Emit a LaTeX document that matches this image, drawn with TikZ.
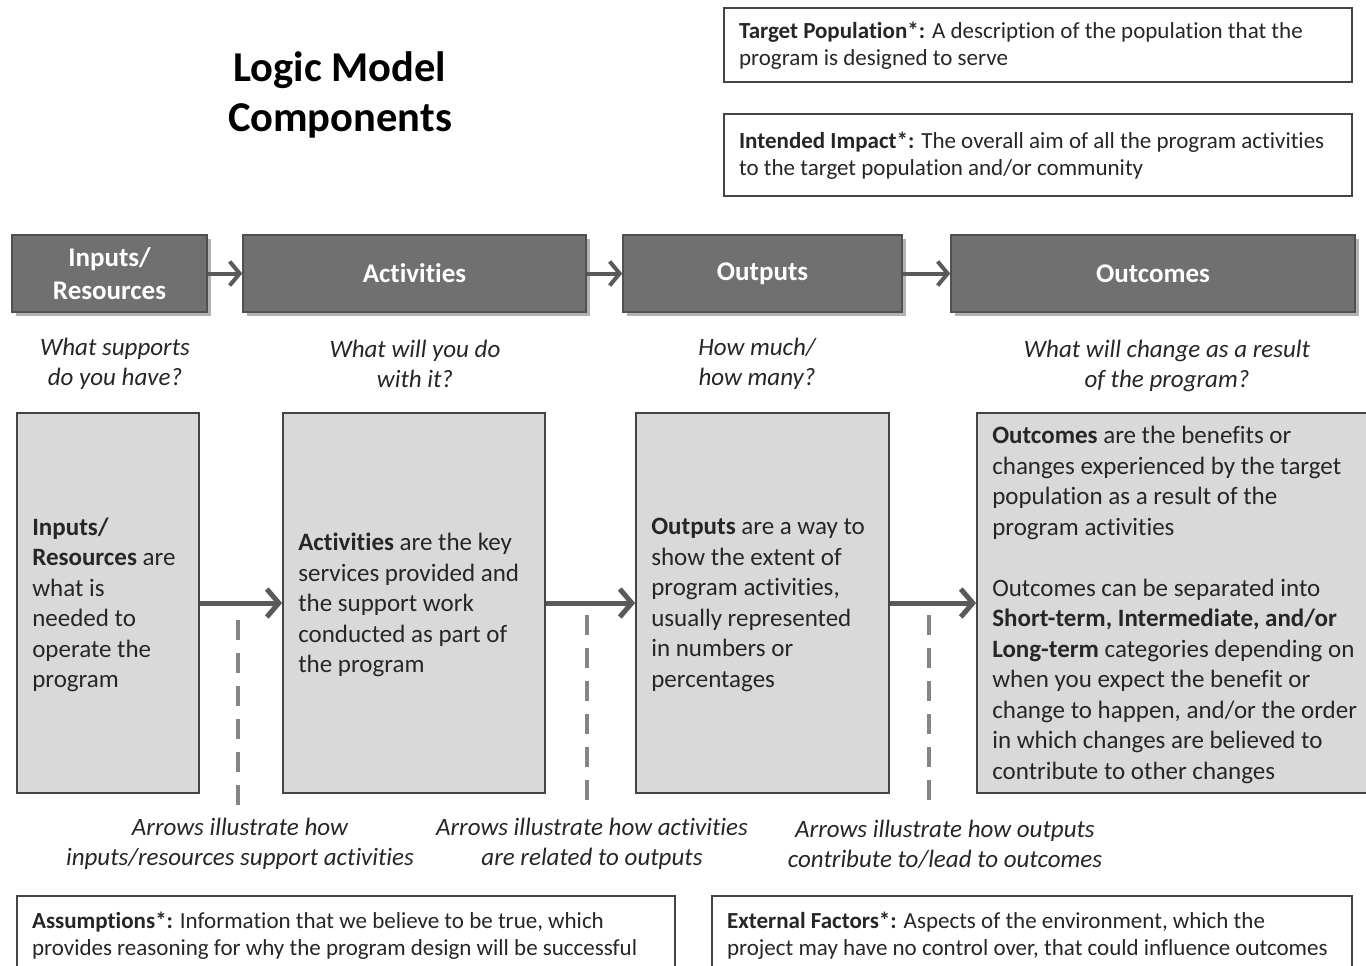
\documentclass[tikz,border=0pt]{standalone}
\usepackage{fontspec}
\setmainfont{Carlito}[Ligatures=NoCommon]
\usetikzlibrary{arrows.meta,shadows}
\definecolor{hdrfill}{HTML}{707070}
\definecolor{hdrline}{HTML}{505050}
\definecolor{boxfill}{HTML}{D9D9D9}
\definecolor{boxline}{HTML}{454545}
\definecolor{arrowc}{HTML}{5A5A5A}
\definecolor{dashc}{HTML}{858585}
\tikzset{
  hdr/.style={draw=hdrline, line width=1.5pt, fill=hdrfill, text=white,
    font=\fontsize{27}{33}\selectfont\bfseries, align=center,
    minimum height=77pt, inner sep=0pt,
    drop shadow={shadow xshift=4pt, shadow yshift=-4pt, opacity=0.3, fill=black}},
  bigbox/.style={draw=boxline, line width=1.8pt, fill=boxfill, minimum height=380pt, inner sep=0pt},
  wbox/.style={draw=boxline, line width=2.2pt, fill=white, inner sep=0pt},
  bodytxt/.style={anchor=west, align=left, inner sep=0pt, font=\fontsize{25}{30.5}\selectfont, text=black!85},
  boxtxt/.style={anchor=west, align=left, inner sep=0pt, font=\fontsize{23}{27}\selectfont, text=black!85},
  question/.style={align=center, inner sep=0pt, font=\fontsize{25}{30}\selectfont\itshape, text=black!85},
  hdrarrow/.style={draw=arrowc, line width=4pt, -{Straight Barb[length=10pt,width=24pt]}},
  bigarrow/.style={draw=arrowc, line width=5pt, -{Straight Barb[length=12pt,width=28pt]}},
  dashline/.style={draw=dashc, line width=3.5pt, dash pattern=on 20pt off 13pt},
}
\begin{document}
\begin{tikzpicture}[x=1pt, y=-1pt]
\useasboundingbox (0,0) rectangle (1366,966);

% title
\node[align=center, inner sep=0pt, font=\fontsize{42.5}{50}\selectfont\bfseries] (title) at (340,95) {Logic Model\\Components};

% top boxes
\node[wbox, minimum width=628pt, minimum height=74pt] (tp) at (1038,45) {};
\node[boxtxt] (tptxt) at ([xshift=16pt,yshift=-1pt]tp.west) {\textbf{Target Population*:} A description of the population that the\\program is designed to serve};
\node[wbox, minimum width=628pt, minimum height=82pt] (ii) at (1038,155) {};
\node[boxtxt] (iitxt) at ([xshift=16pt,yshift=-1pt]ii.west) {\textbf{Intended Impact*:} The overall aim of all the program activities\\to the target population and/or community};

% header boxes
\node[hdr, minimum width=195pt] (hin) at (109.5,273.5) {Inputs/\\Resources};
\node[hdr, minimum width=343pt] (hact) at (414.5,273.5) {Activities};
\node[hdr, minimum width=279pt] (hout) at (762.5,273.5) {Outputs};
\node[hdr, minimum width=404pt] (hoc) at (1153,273.5) {Outcomes};
\draw[hdrarrow] (hin.east) -- (hact.west);
\draw[hdrarrow] (hact.east) -- (hout.west);
\draw[hdrarrow] (hout.east) -- (hoc.west);

% questions
\node[question] (q1) at (115,364) {What supports\\do you have?};
\node[question] (q2) at (415,364) {What will you do\\with it?};
\node[question] (q3) at (757,364) {How much/\\how many?};
\node[question] (q4) at (1167,366) {What will change as a result\\of the program?};

% big boxes
\node[bigbox, minimum width=182pt] (bin) at (108,603) {};
\node[bigbox, minimum width=262pt] (bact) at (414,603) {};
\node[bigbox, minimum width=253pt] (bout) at (762.5,603) {};
\node[bigbox, minimum width=393pt] (boc) at (1173.5,603) {};

\node[bodytxt] (tin) at ([xshift=16pt,yshift=-2pt]bin.west) {\textbf{Inputs/}\\\textbf{Resources} are\\what is\\needed to\\operate the\\program};
\node[bodytxt] (tact) at ([xshift=16pt,yshift=-2pt]bact.west) {\textbf{Activities} are the key\\services provided and\\the support work\\conducted as part of\\the program};
\node[bodytxt] (tout) at ([xshift=16pt,yshift=-2pt]bout.west) {\textbf{Outputs} are a way to\\show the extent of\\program activities,\\usually represented\\in numbers or\\percentages};
\node[bodytxt] (toc) at ([xshift=16pt,yshift=-2pt]boc.west) {\textbf{Outcomes} are the benefits or\\changes experienced by the target\\population as a result of the\\program activities\\[30.5pt]Outcomes can be separated into\\\textbf{Short-term, Intermediate, and/or}\\\textbf{Long-term} categories depending on\\when you expect the benefit or\\change to happen, and/or the order\\in which changes are believed to\\contribute to other changes};

\draw[bigarrow] (bin.east) -- (bact.west);
\draw[bigarrow] (bact.east) -- (bout.west);
\draw[bigarrow] (bout.east) -- (boc.west);

% dashed lines
\coordinate (d1a) at (238,620); \coordinate (d1b) at (238,805);
\coordinate (d2a) at (587,615); \coordinate (d2b) at (587,800);
\coordinate (d3a) at (929,615); \coordinate (d3b) at (929,800);
\draw[dashline] (d1a) -- (d1b);
\draw[dashline] (d2a) -- (d2b);
\draw[dashline] (d3a) -- (d3b);

% arrow explanations
\node[question] (l1) at (240,844) {Arrows illustrate how\\inputs/resources support activities};
\node[question] (l2) at (592,844) {Arrows illustrate how activities\\are related to outputs};
\node[question] (l3) at (945,844) {Arrows illustrate how outputs\\contribute to/lead to outcomes};

% bottom boxes
\node[wbox, minimum width=658pt, minimum height=74pt] (as) at (346,933) {};
\node[boxtxt] (astxt) at ([xshift=16pt,yshift=-3pt]as.west) {\textbf{Assumptions*:} Information that we believe to be true, which\\provides reasoning for why the program design will be successful};
\node[wbox, minimum width=640pt, minimum height=74pt] (ef) at (1032,933) {};
\node[boxtxt] (eftxt) at ([xshift=16pt,yshift=-3pt]ef.west) {\textbf{External Factors*:} Aspects of the environment, which the\\project may have no control over, that could influence outcomes};
\end{tikzpicture}
\end{document}
